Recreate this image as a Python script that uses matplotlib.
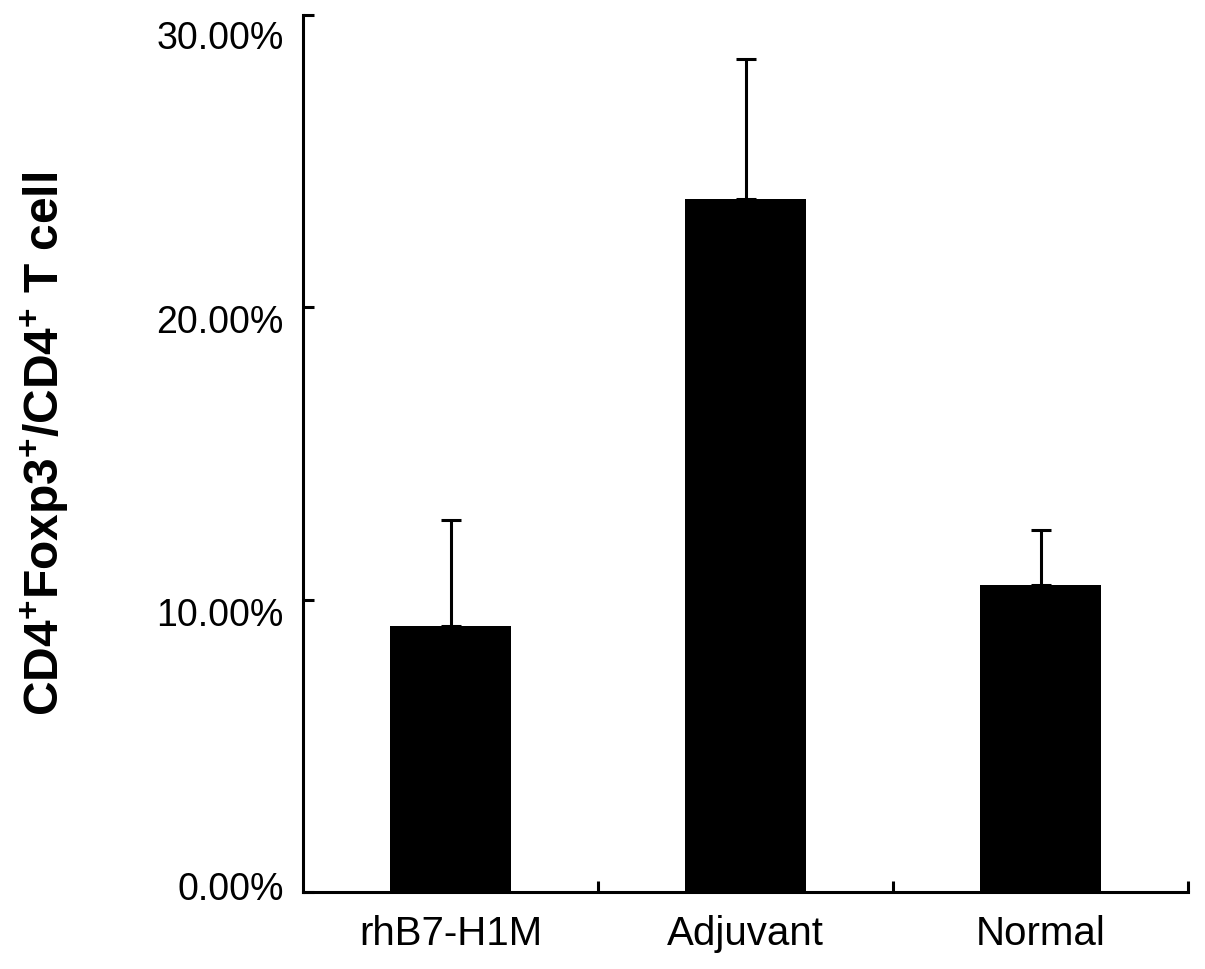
import matplotlib
matplotlib.use('Agg')
import matplotlib.pyplot as plt
import matplotlib.transforms as mtransforms
import numpy as np

# dados (%)
grupos = ['rhB7-H1M', 'Adjuvant', 'Normal']
media = [9.10, 23.71, 10.50]
erro = [3.63, 4.79, 1.88]
yticks = [0, 10, 20, 30]

plt.rcParams['font.family'] = ['Liberation Sans', 'DejaVu Sans']
plt.rcParams['mathtext.fontset'] = 'custom'
plt.rcParams['mathtext.rm'] = 'Liberation Sans:bold'
plt.rcParams['mathtext.bf'] = 'Liberation Sans:bold'

fig = plt.figure(figsize=(12.05, 9.70), dpi=100)
ax = fig.add_axes([0.2515, 0.0794, 0.986 - 0.2515, 0.9835 - 0.0794])

x = np.arange(len(grupos))
ax.bar(x, media, width=0.41, color='black')
ax.errorbar(x, media, yerr=[np.zeros(len(erro)), erro], fmt='none',
            ecolor='black', elinewidth=2.2, capsize=7.5, capthick=2.2)

ax.set_xlim(-0.5, 2.5)
ax.set_ylim(0, 30)

ax.spines['top'].set_visible(False)
ax.spines['right'].set_visible(False)
ax.spines['left'].set_linewidth(2.2)
ax.spines['bottom'].set_linewidth(2.2)

ax.set_yticks(yticks)
ax.set_yticklabels(['%.2f%%' % v for v in yticks], fontsize=27)
ax.tick_params(axis='y', direction='in', length=8, width=2.2, pad=14)

# no original os rotulos do eixo y nao ficam bem alinhados aos ticks
desloc = [7, -11, -11, -19]  # pixels
for lab, d in zip(ax.get_yticklabels(), desloc):
    lab.set_transform(lab.get_transform() +
                      mtransforms.ScaledTranslation(0, d / 100, fig.dpi_scale_trans))

ax.set_xticks(x)
ax.set_xticklabels(grupos, fontsize=29)
ax.tick_params(axis='x', which='major', length=0, pad=16)
ax.set_xticks([0.5, 1.5, 2.5], minor=True)
ax.tick_params(axis='x', which='minor', direction='in', length=8, width=2.2)

ax.set_ylabel(r'CD4$^{+}$Foxp3$^{+}$/CD4$^{+}$ T cell', fontsize=34.5,
              fontweight='bold')
ax.yaxis.set_label_coords(-0.262, 0.512)

fig.savefig('out.png', dpi=100)
